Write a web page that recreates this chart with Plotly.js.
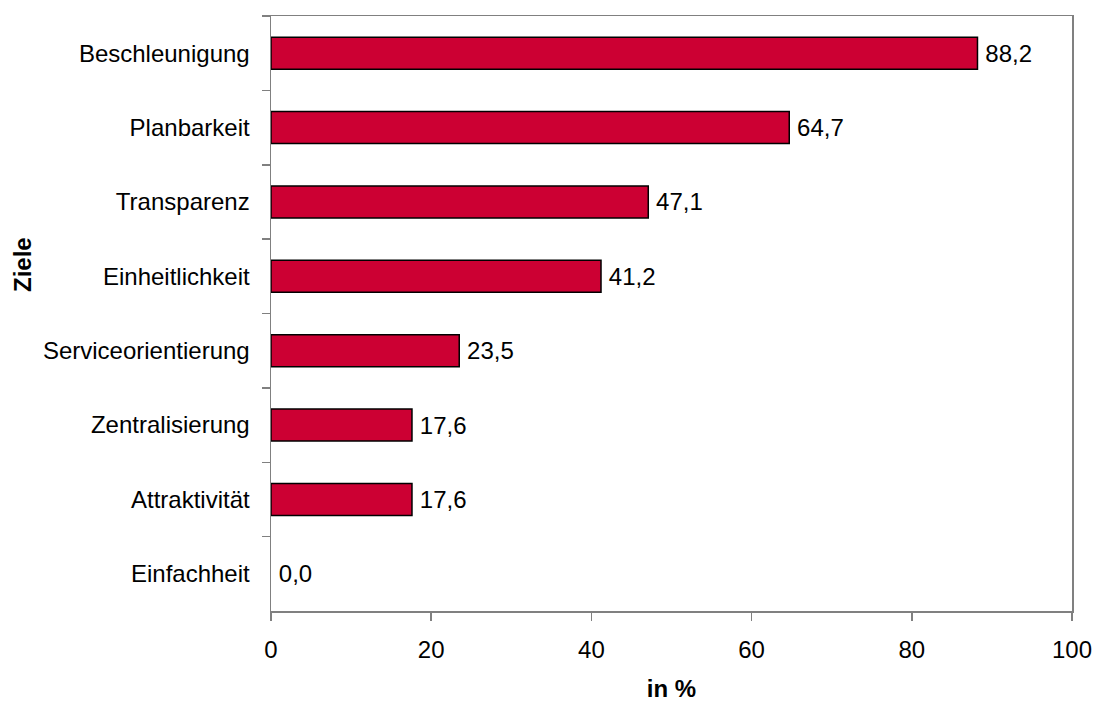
<!DOCTYPE html>
<html>
<head>
<meta charset="utf-8">
<script src="https://cdn.plot.ly/plotly-3.0.1.min.js"></script>
<style>html,body{margin:0;padding:0;background:#fff;}#chart{width:1096px;height:702px;}</style>
</head>
<body>
<div id="chart"></div>
<script>
const categories = ["Beschleunigung","Planbarkeit","Transparenz","Einheitlichkeit","Serviceorientierung","Zentralisierung","Attraktivität","Einfachheit"];
const values = [88.2, 64.7, 47.1, 41.2, 23.5, 17.6, 17.6, 0.0];
const xTicks = [0, 20, 40, 60, 80, 100];
const xTitle = "in %";
const yTitle = "Ziele";

const font = "Liberation Sans, Arial, sans-serif";
const trace = {
  type: "bar",
  orientation: "h",
  x: values,
  y: categories,
  marker: {color: "#CC0033", line: {color: "#000000", width: values.map(v => v > 0 ? 1.5 : 0)}},
  texttemplate: "\u2009%{x:.1f}",
  textposition: "outside",
  constraintext: "none",
  cliponaxis: false,
  textfont: {family: font, size: 24, color: "#000"},
  hoverinfo: "skip"
};
const layout = {
  width: 1096, height: 702,
  margin: {l: 271, r: 24, t: 16, b: 91, pad: 0},
  paper_bgcolor: "#ffffff", plot_bgcolor: "#ffffff",
  separators: ",.",
  font: {family: font, size: 24, color: "#000"},
  showlegend: false,
  bargap: 0.57,
  xaxis: {
    range: [0, 100], tickvals: xTicks, ticktext: xTicks.map(String),
    showgrid: false, zeroline: false,
    showline: true, mirror: true, linecolor: "#808080", linewidth: 1.5,
    ticks: "outside", ticklen: 8, tickcolor: "#808080", tickwidth: 1.5,
    ticklabelstandoff: 9,
    tickfont: {family: font, size: 24, color: "#000"},
    title: {text: "<b>" + xTitle + "</b>", font: {family: font, size: 24, color: "#000"}, standoff: 22},
    fixedrange: true
  },
  yaxis: {
    type: "category", autorange: "reversed",
    showgrid: false, zeroline: false,
    showline: true, mirror: true, linecolor: "#808080", linewidth: 1.5,
    ticks: "outside", tickson: "boundaries", ticklen: 8, tickcolor: "#808080", tickwidth: 1.5,
    ticklabelstandoff: 15,
    tickfont: {family: font, size: 24, color: "#000"},
    fixedrange: true
  },
  annotations: [{
    text: "<b>" + yTitle + "</b>", textangle: -90,
    xref: "paper", yref: "paper",
    x: (22 - 271) / 801, y: (611 - 265) / 595,
    xanchor: "center", yanchor: "middle", showarrow: false,
    font: {family: font, size: 24, color: "#000"}
  }]
};
Plotly.newPlot("chart", [trace], layout, {staticPlot: true, displayModeBar: false});
</script>
</body>
</html>
